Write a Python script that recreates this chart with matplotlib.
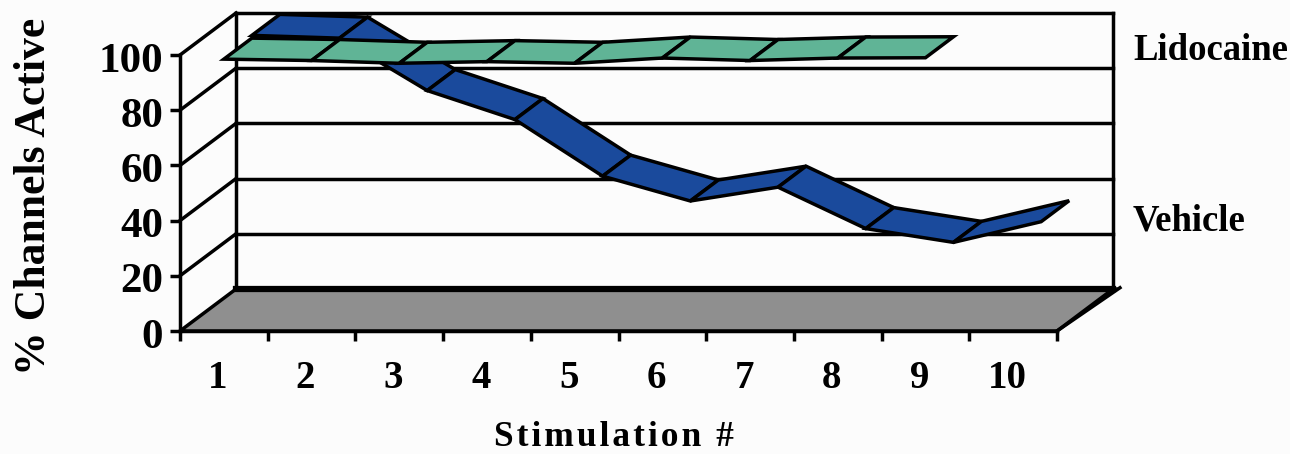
import matplotlib
matplotlib.use("Agg")
import matplotlib.pyplot as plt
from matplotlib.transforms import ScaledTranslation

stim = [1, 2, 3, 4, 5, 6, 7, 8, 9, 10]
y_ticks = [0, 20, 40, 60, 80, 100]
vehicle = [99.5, 98.5, 79.5, 69, 48.5, 39.5, 44.5, 29.5, 24.5, 32]
lidocaine = [98.5, 98, 97, 97.6, 97, 98.9, 98, 98.9, 99]

BLUE = "#1a4a9c"
GREEN = "#60b496"
GRAY = "#8f8f8f"
BG = "#fcfcfc"
LW = 2.5

# depth of the box in data units (56 px right, 42 px up at full depth)
DEPTH_X = 56 / 87.7
DEPTH_Y = 42 / 2.76


def project(x, y, d):
    # oblique 3d look: d=0 is the front of the box, d=1 the back wall
    return x + d * DEPTH_X, y + d * DEPTH_Y


def poly(ax, pts, color, zorder):
    xs, ys = zip(*pts)
    ax.fill(xs, ys, facecolor=color, edgecolor="black", linewidth=LW,
            joinstyle="miter", clip_on=False, zorder=zorder)


def line(ax, a, b, lw=LW, zorder=2):
    ax.plot([a[0], b[0]], [a[1], b[1]], color="black", lw=lw,
            clip_on=False, zorder=zorder, solid_capstyle="projecting")


def ribbon(ax, values, d0, d1, color, zorder):
    for i in range(len(values) - 1):
        x0, x1 = i + 0.5, i + 1.5
        pts = [project(x0, values[i], d0), project(x1, values[i + 1], d0),
               project(x1, values[i + 1], d1), project(x0, values[i], d1)]
        poly(ax, pts, color, zorder)


plt.rcParams["font.family"] = ["Liberation Serif", "DejaVu Serif"]
plt.rcParams["font.weight"] = "bold"

fig = plt.figure(figsize=(12.9, 4.54), dpi=100, facecolor=BG)
ax = fig.add_axes([180 / 1290, (454 - 331) / 454, 877 / 1290, 276 / 454])
ax.set_facecolor("none")
ax.set_xlim(0, 10)
ax.set_ylim(0, 100)

for s in ["top", "right"]:
    ax.spines[s].set_visible(False)
for s in ["left", "bottom"]:
    ax.spines[s].set_linewidth(LW)

# floor
n = len(stim)
poly(ax, [project(0, 0, 0), project(n, 0, 0), project(n, 0, 1), project(0, 0, 1)], GRAY, 1)
line(ax, project(0, 0, 1), project(n, 0, 1), lw=4.5, zorder=2)
line(ax, project(n, 0, 0), project(n + 0.06, 0, 1.03), lw=LW, zorder=2)

# back wall and side wall lines
line(ax, project(0, 0, 1), project(0, 100, 1))
line(ax, project(n, 0, 1), project(n, 100, 1))
for v in y_ticks[1:]:
    line(ax, project(0, v, 0), project(0, v, 1))
    line(ax, project(0, v, 1), project(n, v, 1))

ribbon(ax, vehicle, 0.5, 1.0, BLUE, 3)
ribbon(ax, lidocaine, 0.0, 0.5, GREEN, 4)

ax.set_yticks(y_ticks)
ax.set_xticks(range(0, n + 1))
ax.set_xticklabels([])
ax.set_xticks([i + 0.5 for i in range(n)], minor=True)
ax.set_xticklabels([str(s) for s in stim], minor=True)
ax.tick_params(axis="both", which="major", length=7, width=LW, direction="out")
ax.tick_params(axis="x", which="minor", length=0, pad=21)
ax.tick_params(axis="y", which="major", labelsize=31, pad=5)
ax.tick_params(axis="x", which="minor", labelsize=28)
shift = ScaledTranslation(-6 / 100, 0, fig.dpi_scale_trans)
for lab in ax.get_xticklabels(minor=True):
    lab.set_transform(lab.get_transform() + shift)
down = ScaledTranslation(0, -2 / 100, fig.dpi_scale_trans)
for lab in ax.get_yticklabels():
    lab.set_transform(lab.get_transform() + down)

fig.text(34 / 1290, 1 - 196 / 454, "% Channels Active", rotation=90,
         ha="center", va="center", fontsize=31.5)
# the x title is letter-spaced in the original
fig.text(614 / 1290, 1 - 437 / 454, "\u200a".join("Stimulation #"), ha="center", va="center", fontsize=25.5)
fig.text(1133 / 1290, 1 - 51 / 454, "Lidocaine", ha="left", va="center", fontsize=26.5)
fig.text(1133 / 1290, 1 - 221 / 454, "Vehicle", ha="left", va="center", fontsize=26.5)

fig.savefig("out.png", dpi=100, facecolor=fig.get_facecolor())
